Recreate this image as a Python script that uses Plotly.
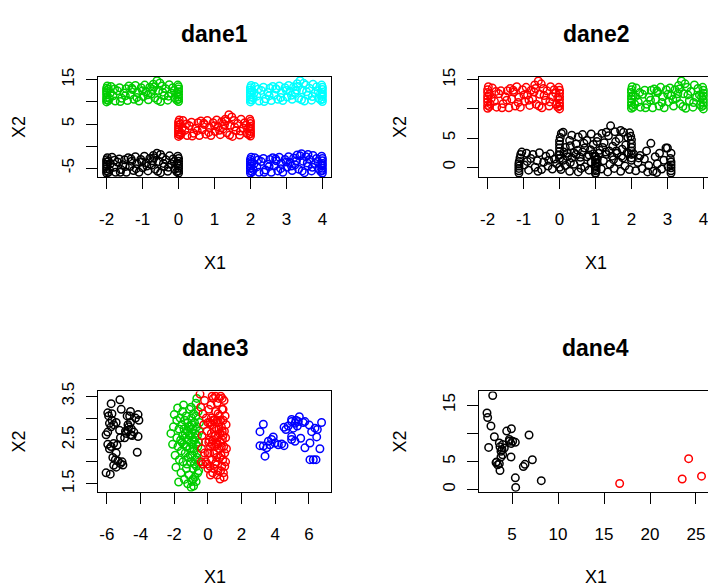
import plotly.graph_objects as go

# ---------------- data ----------------
# dane1
d1_black = [(-2.0,-6.1),(-2.0,-5.6),(-2.0,-5.1),(-2.0,-4.6),(-2.0,-4.1),(-2.0,-3.6),(-2.0,-3.1),(-1.98,-2.6),(-1.95,-5.9),(-1.95,-3.4),
    (0.0,-6.1),(0.0,-5.6),(0.0,-5.0),(0.0,-4.5),(0.0,-4.0),(0.0,-3.4),(0.0,-2.8),(-0.02,-2.3),(-0.05,-5.8),(-0.05,-3.9),
    (-1.85,-2.5),(-1.8,-4.8),(-1.75,-5.9),(-1.7,-3.6),(-1.65,-2.9),(-1.6,-5.3),(-1.55,-4.2),(-1.5,-3.1),(-1.45,-5.9),(-1.4,-2.6),
    (-1.35,-4.6),(-1.3,-3.4),(-1.25,-5.5),(-1.2,-2.4),(-1.15,-4.0),(-1.1,-5.9),(-1.05,-3.0),(-1.0,-4.9),(-0.95,-2.3),(-0.9,-3.8),
    (-0.85,-5.6),(-0.8,-2.8),(-0.75,-4.3),(-0.7,-2.1),(-0.65,-5.2),(-0.6,-1.6),(-0.55,-3.5),(-0.5,-6.0),(-0.45,-2.5),(-0.4,-4.6),
    (-0.35,-3.1),(-0.3,-5.7),(-0.25,-2.2),(-0.2,-4.0),(-0.15,-2.9),(-0.1,-5.2),(-1.9,-4.0),(-1.78,-3.2),(-1.62,-5.9),(-1.48,-4.6),
    (-1.32,-2.9),(-1.18,-5.1),(-1.02,-3.6),(-0.88,-4.5),(-0.72,-3.3),(-0.58,-5.7),(-0.42,-3.9),(-0.28,-4.8),(-0.12,-3.5),(-1.92,-5.3),
    (-0.5,-1.9),(-0.68,-2.6)]
d1_green = [(-2.0,10.0),(-2.0,10.5),(-2.0,11.0),(-2.0,11.6),(-2.0,12.1),(-2.0,12.6),(-2.0,13.1),(-1.98,13.6),(-1.95,10.3),(-1.95,12.9),
    (0.0,10.1),(0.0,10.6),(0.0,11.1),(0.0,11.7),(0.0,12.3),(0.0,12.9),(0.0,13.4),(-0.02,13.8),(-0.05,10.4),(-0.05,12.0),
    (-1.88,13.5),(-1.82,11.4),(-1.76,10.2),(-1.7,12.5),(-1.64,13.2),(-1.58,10.8),(-1.52,12.0),(-1.46,13.0),(-1.42,10.3),(-1.38,13.6),
    (-1.34,11.6),(-1.28,12.8),(-1.24,10.6),(-1.2,13.7),(-1.14,12.1),(-1.1,10.2),(-1.04,13.2),(-0.98,11.2),(-0.94,13.8),(-0.9,12.3),
    (-0.84,10.5),(-0.8,13.3),(-0.76,11.8),(-0.7,14.0),(-0.66,10.9),(-0.6,14.8),(-0.56,12.6),(-0.5,10.1),(-0.46,13.6),(-0.4,11.4),
    (-0.36,13.0),(-0.3,10.4),(-0.26,13.9),(-0.2,12.0),(-0.16,13.2),(-0.1,10.9),(-1.9,12.0),(-1.78,12.9),(-1.62,10.1),(-1.48,11.4),
    (-1.3,13.1),(-1.16,11.0),(-1.0,12.5),(-0.86,11.6),(-0.72,12.8),(-0.58,10.4),(-0.44,12.2),(-0.28,11.3),(-0.12,12.6),(-1.92,10.8),
    (-0.52,14.3),(-0.68,13.4)]
d1_red = [(0.0,2.2),(0.0,2.7),(0.0,3.2),(0.0,3.7),(0.0,4.2),(0.0,4.8),(0.0,5.4),(0.02,5.9),(0.05,2.5),(0.05,5.0),
    (2.0,2.3),(2.0,2.8),(2.0,3.3),(2.0,3.9),(2.0,4.5),(2.0,5.1),(2.0,5.6),(1.98,6.1),(1.95,2.6),(1.95,4.2),
    (0.12,5.8),(0.18,3.6),(0.24,2.4),(0.3,4.6),(0.36,5.4),(0.42,2.9),(0.48,4.1),(0.54,5.3),(0.58,2.4),(0.62,5.7),
    (0.66,3.7),(0.72,4.9),(0.76,2.7),(0.8,5.8),(0.86,4.2),(0.9,2.4),(0.96,5.3),(1.02,3.3),(1.06,5.9),(1.1,4.4),
    (1.16,2.6),(1.2,5.5),(1.24,3.9),(1.3,6.1),(1.34,3.0),(1.4,7.1),(1.44,4.7),(1.5,2.2),(1.54,5.8),(1.6,3.5),
    (1.64,5.1),(1.7,2.5),(1.74,6.1),(1.8,4.1),(1.84,5.3),(1.9,2.9),(0.1,4.1),(0.22,5.0),(0.38,2.3),(0.52,3.5),
    (0.7,5.2),(0.84,3.1),(1.0,4.6),(1.14,3.6),(1.28,4.9),(1.42,2.5),(1.56,4.3),(1.72,3.4),(1.88,4.7),(0.08,2.9),
    (1.48,6.6),(1.32,5.7)]
d1_cyan = [(2.0,10.0),(2.0,10.5),(2.0,11.1),(2.0,11.6),(2.0,12.2),(2.0,12.7),(2.0,13.2),(2.02,13.7),(2.05,10.4),(2.05,12.4),
    (4.0,10.1),(4.0,10.6),(4.0,11.2),(4.0,11.7),(4.0,12.2),(4.0,12.8),(4.0,13.3),(3.98,13.8),(3.95,10.5),(3.95,11.9),
    (2.12,13.5),(2.18,11.3),(2.24,10.2),(2.3,12.6),(2.36,13.3),(2.42,10.7),(2.48,12.1),(2.54,13.1),(2.58,10.3),(2.62,13.5),
    (2.66,11.5),(2.72,12.9),(2.76,10.6),(2.8,13.6),(2.86,12.0),(2.9,10.3),(2.96,13.2),(3.02,11.1),(3.06,13.7),(3.1,12.4),
    (3.16,10.6),(3.2,13.4),(3.24,11.9),(3.3,14.1),(3.34,10.8),(3.38,14.8),(3.44,12.7),(3.5,10.2),(3.54,13.8),(3.6,11.5),
    (3.64,13.1),(3.7,10.4),(3.74,14.0),(3.8,12.1),(3.84,13.4),(3.9,10.8),(2.1,12.0),(2.22,12.9),(2.38,10.1),(2.52,11.4),
    (2.7,13.0),(2.84,11.0),(3.0,12.6),(3.14,11.5),(3.28,12.7),(3.42,10.5),(3.56,12.3),(3.72,11.2),(3.88,12.5),(2.08,10.9),
    (3.48,14.2),(3.32,13.5)]
d1_blue = [(2.0,-6.1),(2.0,-5.6),(2.0,-5.0),(2.0,-4.5),(2.0,-4.0),(2.0,-3.5),(2.0,-3.0),(2.02,-2.5),(2.05,-5.8),(2.05,-3.7),
    (4.0,-6.1),(4.0,-5.5),(4.0,-5.0),(4.0,-4.4),(4.0,-3.9),(4.0,-3.3),(4.0,-2.8),(3.98,-2.3),(3.95,-5.7),(3.95,-4.2),
    (2.12,-2.6),(2.18,-4.7),(2.24,-5.9),(2.3,-3.5),(2.36,-2.8),(2.42,-5.4),(2.48,-4.1),(2.54,-3.0),(2.58,-5.9),(2.62,-2.6),
    (2.66,-4.5),(2.72,-3.3),(2.76,-5.6),(2.8,-2.5),(2.86,-3.9),(2.9,-5.9),(2.96,-3.0),(3.02,-4.8),(3.06,-2.4),(3.1,-3.7),
    (3.16,-5.5),(3.2,-2.7),(3.24,-4.2),(3.3,-2.0),(3.34,-5.2),(3.42,-1.7),(3.46,-3.4),(3.5,-6.0),(3.54,-2.4),(3.6,-4.5),
    (3.64,-3.0),(3.7,-5.6),(3.74,-2.1),(3.8,-3.9),(3.84,-2.8),(3.9,-5.1),(2.1,-4.0),(2.22,-3.1),(2.38,-5.9),(2.52,-4.6),
    (2.7,-2.9),(2.84,-5.1),(3.0,-3.6),(3.14,-4.5),(3.28,-3.3),(3.44,-5.6),(3.58,-3.8),(3.72,-4.8),(3.88,-3.5),(2.08,-5.3),
    (3.38,-2.2),(3.6,-1.9)]

# dane2
d2_red = [(-2.0,10.1),(-2.0,10.6),(-2.0,11.2),(-2.0,11.7),(-2.0,12.2),(-2.0,12.8),(-2.0,13.3),(-1.98,13.8),(-1.95,10.4),(-1.95,12.5),
    (0.0,10.0),(0.0,10.5),(0.0,11.0),(0.0,11.6),(0.0,12.1),(0.0,12.7),(0.0,13.2),(-0.02,13.7),(-0.05,10.3),(-0.05,11.9),
    (-1.87,13.6),(-1.81,11.3),(-1.75,10.3),(-1.69,12.6),(-1.63,13.1),(-1.57,10.9),(-1.51,12.1),(-1.45,13.1),(-1.41,10.2),(-1.37,13.5),
    (-1.33,11.7),(-1.27,12.9),(-1.23,10.5),(-1.19,13.8),(-1.13,12.0),(-1.09,10.3),(-1.03,13.3),(-0.97,11.3),(-0.93,13.7),(-0.89,12.4),
    (-0.83,10.6),(-0.79,13.2),(-0.75,11.7),(-0.69,14.1),(-0.65,10.8),(-0.59,14.8),(-0.55,12.5),(-0.49,10.2),(-0.45,13.5),(-0.39,11.5),
    (-0.35,13.1),(-0.29,10.5),(-0.25,13.8),(-0.19,12.1),(-0.15,13.3),(-0.09,10.8),(-1.9,11.8),(-1.77,13.0),(-1.6,10.2),(-1.47,11.5),
    (-1.29,13.2),(-1.15,11.1),(-0.99,12.4),(-0.85,11.5),(-0.71,12.9),(-0.57,10.5),(-0.43,12.3),(-0.27,11.2),(-0.11,12.7),(-1.93,10.9),
    (-0.51,14.3),(-0.67,13.5)]
d2_green = [(2.0,10.1),(2.0,10.6),(2.0,11.1),(2.0,11.7),(2.0,12.2),(2.0,12.8),(2.0,13.3),(2.02,13.8),(2.05,10.3),(2.05,12.3),
    (4.0,10.0),(4.0,10.6),(4.0,11.1),(4.0,11.6),(4.0,12.2),(4.0,12.7),(4.0,13.2),(3.98,13.7),(3.95,10.4),(3.95,12.0),
    (2.13,13.6),(2.19,11.2),(2.25,10.3),(2.31,12.5),(2.37,13.2),(2.43,10.8),(2.49,12.0),(2.55,13.2),(2.59,10.2),(2.63,13.4),
    (2.67,11.6),(2.73,12.8),(2.77,10.5),(2.81,13.7),(2.87,12.1),(2.91,10.2),(2.97,13.3),(3.03,11.2),(3.07,13.6),(3.11,12.3),
    (3.17,10.5),(3.21,13.3),(3.25,11.8),(3.31,14.0),(3.35,10.9),(3.39,14.8),(3.45,12.6),(3.51,10.1),(3.55,13.7),(3.61,11.4),
    (3.65,13.0),(3.71,10.3),(3.75,14.1),(3.81,12.0),(3.85,13.5),(3.91,10.7),(2.11,12.1),(2.23,12.8),(2.39,10.2),(2.53,11.5),
    (2.71,13.1),(2.85,11.1),(3.01,12.5),(3.15,11.6),(3.29,12.6),(3.43,10.4),(3.57,12.4),(3.73,11.1),(3.89,12.4),(2.09,10.8),
    (3.49,14.3),(3.33,13.4)]
d2_black_a = [(-1.13,-1.0),(-1.13,-0.6),(-1.13,-0.2),(-1.13,0.2),(-1.13,0.6),(-1.12,1.0),(-1.1,1.6),(-1.08,2.2),
    (1.0,-1.0),(1.0,-0.6),(1.0,-0.2),(1.0,0.3),(1.0,0.8),(1.0,1.3),(0.98,1.9),
    (-1.05,2.6),(-0.98,0.4),(-0.92,2.4),(-0.86,-0.5),(-0.8,1.5),(-0.74,2.2),(-0.68,0.0),(-0.62,1.1),(-0.56,2.5),(-0.5,-0.4),
    (-0.44,0.9),(-0.38,1.9),(-0.32,0.2),(-0.26,2.3),(-0.2,-0.3),(-0.14,1.4),(-0.08,0.6),(-0.02,2.1),(0.04,-0.4),(0.1,1.2),
    (0.16,0.3),(0.22,2.4),(0.28,-0.7),(0.34,1.6),(0.4,0.5),(0.46,2.2),(0.52,-0.8),(0.58,1.0),(0.64,2.6),(0.7,0.1),
    (0.76,1.8),(0.82,-0.5),(0.88,0.9),(0.94,2.3),(-0.9,1.0),(-0.6,-0.7),(-0.3,1.2),(0.0,0.0),(0.3,0.8),(0.6,-0.2)]
d2_black_b = [(0.0,1.5),(0.0,2.1),(0.0,2.7),(0.0,3.3),(0.0,3.9),(0.0,4.5),(0.02,5.1),(0.05,5.8),
    (2.0,1.6),(2.0,2.2),(2.0,2.8),(2.0,3.4),(2.0,4.0),(2.0,4.7),(1.98,5.3),(1.95,5.9),
    (0.1,6.0),(0.16,3.4),(0.22,1.8),(0.28,4.6),(0.34,5.5),(0.4,2.5),(0.46,4.0),(0.52,5.2),(0.58,1.7),(0.64,5.6),
    (0.7,3.3),(0.76,4.6),(0.82,2.1),(0.88,5.7),(0.94,3.9),(1.0,1.8),(1.06,5.1),(1.12,2.9),(1.18,5.8),(1.24,4.2),
    (1.3,2.2),(1.36,5.4),(1.42,7.1),(1.48,3.6),(1.54,6.1),(1.6,2.4),(1.66,4.9),(1.72,1.9),(1.78,6.0),(1.84,3.8),
    (1.9,5.1),(0.12,2.6),(0.3,3.7),(0.5,2.9),(0.68,4.1),(0.86,3.0),(1.04,4.4),(1.2,3.4),(1.38,2.8),(1.56,4.4),
    (1.74,3.1),(1.92,2.4),(1.3,6.0),(1.7,6.3)]
d2_black_c = [(1.0,-1.05),(1.02,-0.5),(1.02,0.1),(1.05,0.7),(1.05,1.4),
    (3.1,-1.0),(3.1,-0.6),(3.1,-0.1),(3.1,0.4),(3.1,0.9),(3.08,1.5),(3.1,2.4),(3.0,3.3),
    (1.1,2.4),(1.16,-0.3),(1.22,1.1),(1.28,2.6),(1.34,-0.8),(1.4,0.5),(1.46,1.9),(1.52,-0.2),(1.58,2.8),(1.64,0.9),
    (1.7,-0.7),(1.76,1.6),(1.82,0.2),(1.88,2.5),(1.94,-0.4),(2.0,1.2),(2.06,2.3),(2.12,-0.6),(2.18,0.8),(2.24,2.0),
    (2.3,-0.2),(2.36,1.4),(2.42,2.8),(2.48,0.3),(2.54,4.1),(2.6,-0.7),(2.66,1.8),(2.72,0.6),(2.78,2.4),(2.84,-0.3),
    (2.9,1.2),(2.96,3.3),(3.02,0.1),(1.5,1.3),(2.2,1.6),(2.7,-0.9),(2.45,-0.8)]

# dane3
d3_black = [(-5.75,3.33),(-5.23,3.42),(-5.95,3.12),(-5.9,3.05),(-5.15,3.2),(-4.6,3.15),(-4.15,3.08),(-4.65,3.05),(-5.7,2.95),(-5.85,2.88),
    (-4.6,2.9),(-4.1,2.95),(-5.75,2.8),(-5.6,2.85),(-5.25,2.72),(-4.7,2.8),(-4.55,2.75),(-4.4,2.68),(-4.15,2.58),(-6.05,2.62),
    (-5.95,2.4),(-5.6,2.42),(-5.75,2.35),(-5.4,2.38),(-5.2,2.55),(-4.95,2.55),(-5.45,2.2),(-5.5,2.05),(-5.35,2.02),(-5.2,1.96),
    (-5.05,1.93),(-5.6,1.92),(-5.45,1.88),(-4.2,2.22),(-6.05,1.75),(-5.8,1.72),(-4.75,2.85),(-4.6,2.62),(-4.5,2.6),(-5.95,2.68),
    (-4.8,3.05),(-4.9,2.7),(-5.1,2.0),(-5.85,2.3),(-4.75,2.72),(-4.3,3.0),(-5.7,3.1),(-5.45,2.9),(-4.85,2.65),(-5.65,2.1)]
d3_green = [(-2.2,2.65),(-2.0,3.08),(-1.8,3.23),(-1.9,1.88),(-1.74,1.54),(-0.71,3.34),(-1.0,1.42),(-2.1,2.4),(-2.05,2.8),(-1.95,2.15),
    (-1.85,2.55),(-1.85,2.95),(-1.78,2.35),(-1.72,2.75),(-1.7,2.05),(-1.65,3.0),(-1.62,2.5),(-1.6,1.75),(-1.58,2.25),(-1.55,2.85),
    (-1.5,3.15),(-1.5,2.6),(-1.48,2.0),(-1.45,2.4),(-1.42,2.75),(-1.4,1.6),(-1.38,2.95),(-1.35,2.2),(-1.33,2.55),(-1.3,3.05),
    (-1.28,1.85),(-1.25,2.35),(-1.22,2.7),(-1.2,2.9),(-1.18,2.1),(-1.15,2.5),(-1.12,1.7),(-1.1,3.2),(-1.08,2.3),(-1.05,2.8),
    (-1.02,2.0),(-1.0,2.6),(-0.98,3.0),(-0.96,1.55),(-0.94,2.4),(-0.92,2.15),(-0.9,2.75),(-0.88,1.85),(-0.86,3.1),(-0.84,2.5),
    (-0.82,2.25),(-0.8,2.9),(-0.78,1.65),(-0.76,2.65),(-0.74,2.05),(-0.72,3.05),(-0.7,2.4),(-0.68,1.9),(-0.66,2.8),(-0.64,2.2),
    (-0.62,2.6),(-0.6,1.75),(-0.58,3.15),(-0.56,2.45),(-0.54,2.0),(-0.52,2.7),(-0.5,2.9),(-0.66,3.45),(-1.45,3.3),(-1.25,1.95),
    (-1.05,2.15),(-0.95,2.85),(-0.85,2.3),(-0.75,2.55),(-0.65,2.1),(-1.35,2.65),(-1.15,2.8),(-0.9,1.6),(-0.8,1.95),(-0.7,1.55),
    (-1.55,2.45),(-1.3,2.35),(-1.1,2.6),(-0.6,2.35),(-0.55,1.8),(-1.2,1.5),(-1.0,3.25),(-0.85,1.45)]
d3_red = [(-0.43,3.25),(-0.47,3.55),(-0.3,3.1),(-0.35,2.6),(-0.4,2.0),(-0.38,2.3),(-0.3,1.95),(-0.25,2.85),(-0.2,3.4),(-0.15,2.45),
    (-0.12,2.0),(-0.1,3.0),(-0.05,2.7),(0.0,2.2),(0.0,1.85),(0.05,3.2),(0.08,2.5),(0.1,2.9),(0.12,1.9),(0.15,2.35),
    (0.18,3.3),(0.2,2.65),(0.22,2.05),(0.25,2.85),(0.28,1.75),(0.3,2.5),(0.32,3.45),(0.35,2.2),(0.38,2.95),(0.4,2.6),
    (0.42,1.95),(0.45,3.15),(0.48,2.4),(0.5,2.75),(0.52,2.1),(0.55,3.35),(0.58,2.55),(0.6,1.8),(0.62,2.9),(0.65,2.3),
    (0.68,3.05),(0.7,2.65),(0.72,1.61),(0.74,2.45),(0.76,3.5),(0.78,2.15),(0.8,2.8),(0.82,1.9),(0.84,3.2),(0.86,2.5),
    (0.88,2.05),(0.9,2.95),(0.92,1.75),(0.94,2.35),(0.96,3.4),(0.98,2.7),(1.0,2.2),(1.02,3.05),(1.05,2.55),(1.08,2.85),
    (1.1,2.3),(0.1,2.2),(0.3,2.95),(0.5,2.0),(0.7,2.1),(0.9,2.6),(0.2,3.0),(0.4,2.35),(0.6,3.1),(0.8,2.35),
    (1.0,1.9),(0.15,1.7),(0.35,1.85),(0.55,1.7),(0.75,1.8),(0.95,1.65),(0.25,3.5),(0.45,3.5),(0.65,3.45),(0.85,3.45),
    (0.0,2.9),(0.05,2.45),(-0.2,2.2),(0.6,2.4),(0.45,2.6),(0.65,2.75),(0.85,2.7),(0.25,2.4),(0.35,2.75),(0.55,2.95),
    (0.75,2.95),(0.9,3.2),(1.05,2.0),(-0.05,1.95)]
d3_blue = [(3.29,2.86),(3.09,2.69),(3.09,2.37),(3.39,2.13),(3.59,2.47),(3.68,2.39),(3.78,2.51),(3.88,2.57),(3.98,2.43),(4.18,2.39),
    (4.38,2.41),(4.52,2.37),(4.63,2.74),(4.52,2.79),(4.77,2.82),(4.97,2.92),(5.07,2.77),(5.31,2.82),(5.43,3.03),(5.37,2.92),
    (5.66,2.9),(5.76,2.92),(6.02,2.84),(6.16,2.69),(6.36,2.77),(6.5,2.74),(6.75,2.9),(6.46,2.57),(6.06,2.43),(5.76,2.32),
    (4.97,2.58),(4.97,2.51),(5.17,2.47),(5.51,2.54),(6.65,2.3),(6.06,2.05),(6.26,2.05),(6.42,2.05),(3.49,2.32),(3.29,2.36),
    (4.97,2.97),(5.17,2.88),(5.23,2.95)]

# dane4
d4_black = [(2.9,16.7),(2.28,13.6),(2.35,12.8),(2.71,11.3),(3.08,9.4),(2.46,7.5),(4.42,10.4),(4.93,10.8),(6.85,9.7),(3.62,8.3),
    (3.69,7.6),(3.98,8.0),(4.71,8.6),(5.07,8.6),(5.36,8.4),(4.89,8.2),(3.8,6.8),(3.98,6.2),(4.89,5.8),(3.8,5.8),
    (3.26,4.8),(3.44,4.4),(3.62,4.6),(3.69,3.4),(7.21,5.3),(6.41,4.5),(6.23,4.1),(5.36,2.1),(5.4,0.4),(8.18,1.6),
    (4.71,8.9),(4.16,7.4),(3.91,7.1),(3.33,4.9)]
d4_red = [(16.7,1.1),(23.5,1.9),(24.2,5.5),(25.6,2.4)]

# axis ticks
x_ticks_12 = [-2, -1, 0, 1, 2, 3, 4]
y_ticks_1 = [-5, 0, 5, 10, 15]
y_text_1 = ["-5", "", "5", "", "15"]
y_ticks_2 = [0, 5, 10, 15]
y_text_2 = ["0", "5", "", "15"]
x_ticks_3 = [-6, -4, -2, 0, 2, 4, 6]
y_ticks_3 = [1.5, 2.0, 2.5, 3.0, 3.5]
y_text_3 = ["1.5", "", "2.5", "", "3.5"]
x_ticks_4 = [5, 10, 15, 20, 25]
y_ticks_4 = [0, 5, 10, 15]
y_text_4 = ["0", "5", "", "15"]
titles = ["dane1", "dane2", "dane3", "dane4"]

# ---------------- figure ----------------
W, H = 708, 588
FONT = "Liberation Sans, Arial, Helvetica, sans-serif"
R_BLACK, R_RED, R_GREEN, R_BLUE, R_CYAN = "#000000", "#FF0000", "#00CD00", "#0000FF", "#00FFFF"

# plot boxes in px: left, right(full, may exceed page), top, bottom
boxes = {1: (98, 331, 69, 171), 2: (479, 712, 69, 171),
         3: (98, 331, 389, 491), 4: (479, 712, 389, 491)}
ranges = {1: ([-2.24, 4.24], [-7.0, 15.67]), 2: ([-2.24, 4.24], [-1.69, 15.5]),
          3: ([-6.53, 7.31], [1.32, 3.61]), 4: ([1.41, 26.74], [-0.35, 17.44])}

fig = go.Figure()

def add(pts, color, k):
    xs = [p[0] for p in pts]
    ys = [p[1] for p in pts]
    sfx = "" if k == 1 else str(k)
    fig.add_trace(go.Scatter(x=xs, y=ys, mode="markers", showlegend=False, hoverinfo="skip",
                             marker=dict(symbol="circle-open", size=7.5, color=color, line=dict(width=1.5, color=color)),
                             xaxis="x" + sfx, yaxis="y" + sfx))

for pts, c in [(d1_black, R_BLACK), (d1_green, R_GREEN), (d1_red, R_RED), (d1_cyan, R_CYAN), (d1_blue, R_BLUE)]:
    add(pts, c, 1)
for pts, c in [(d2_black_a, R_BLACK), (d2_black_b, R_BLACK), (d2_black_c, R_BLACK), (d2_red, R_RED), (d2_green, R_GREEN)]:
    add(pts, c, 2)
for pts, c in [(d3_black, R_BLACK), (d3_green, R_GREEN), (d3_red, R_RED), (d3_blue, R_BLUE)]:
    add(pts, c, 3)
for pts, c in [(d4_black, R_BLACK), (d4_red, R_RED)]:
    add(pts, c, 4)

xt = {1: (x_ticks_12, [str(v) for v in x_ticks_12]), 2: (x_ticks_12, [str(v) for v in x_ticks_12]),
      3: (x_ticks_3, [str(v) for v in x_ticks_3]), 4: (x_ticks_4, [str(v) for v in x_ticks_4])}
yt = {1: (y_ticks_1, y_text_1), 2: (y_ticks_2, y_text_2), 3: (y_ticks_3, y_text_3), 4: (y_ticks_4, y_text_4)}

layout = dict(width=W, height=H, margin=dict(l=0, r=0, t=0, b=0, pad=0),
              paper_bgcolor="white", plot_bgcolor="white", showlegend=False,
              font=dict(family=FONT, color="black", size=17))
annotations = []
for k in range(1, 5):
    L, R, T, B = boxes[k]
    xr, yr = ranges[k]
    Rv = min(R, W)
    xr_vis = [xr[0], xr[0] + (xr[1] - xr[0]) * (Rv - L) / (R - L)]
    sfx = "" if k == 1 else str(k)
    common = dict(showgrid=False, zeroline=False, showline=True, linecolor="black", linewidth=1,
                  ticks="outside", ticklen=11, tickwidth=1, tickcolor="black",
                  tickfont=dict(family=FONT, size=17, color="black"), fixedrange=True,
                  ticklabeloverflow="allow")
    layout["xaxis" + sfx] = dict(common, domain=[L / W, Rv / W], range=xr_vis, anchor="y" + sfx,
                                 tickmode="array", tickvals=xt[k][0], ticktext=xt[k][1],
                                 mirror=True, ticklabelstandoff=16)
    layout["yaxis" + sfx] = dict(common, domain=[1 - B / H, 1 - T / H], range=yr, anchor="x" + sfx,
                                 tickmode="array", tickvals=yt[k][0], ticktext=yt[k][1],
                                 tickangle=-90, mirror=(R <= W), ticklabelstandoff=5)
    cx = (L + R) / 2
    annotations.append(dict(text="<b>%s</b>" % titles[k - 1], x=cx / W, y=1 - (T - 44) / H,
                            xref="paper", yref="paper", xanchor="center", yanchor="middle",
                            showarrow=False, font=dict(family=FONT, size=23, color="black")))
    annotations.append(dict(text="X1", x=cx / W, y=1 - (B + 87) / H, xref="paper", yref="paper",
                            xanchor="center", yanchor="middle", showarrow=False,
                            font=dict(family=FONT, size=18, color="black")))
    annotations.append(dict(text="X2", x=(L - 79) / W, y=1 - ((T + B) / 2) / H, xref="paper", yref="paper",
                            xanchor="center", yanchor="middle", showarrow=False, textangle=-90,
                            font=dict(family=FONT, size=18, color="black")))
layout["annotations"] = annotations
fig.update_layout(**layout)
# remove the browser's default page margin so the 708x588 figure fills the window exactly
fig.write_html("out.html", config={"displayModeBar": False},
               post_script="document.body.style.margin='0';document.body.style.overflow='hidden';")
